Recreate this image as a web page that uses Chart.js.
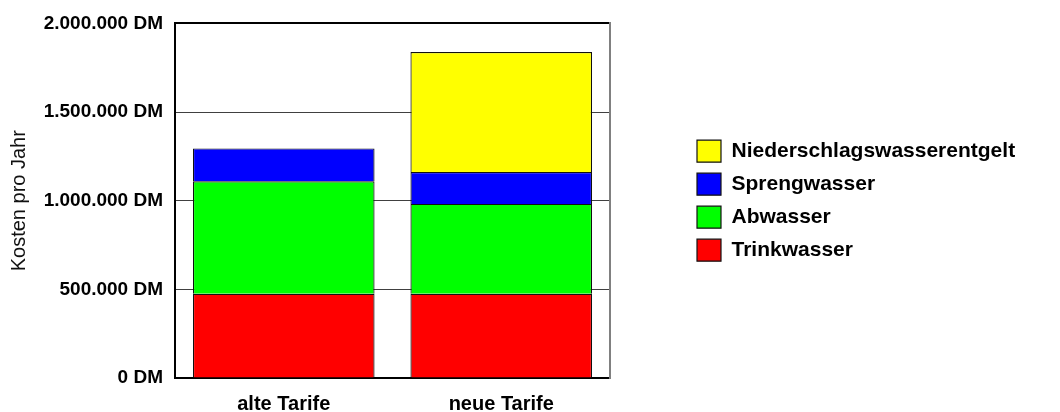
<!DOCTYPE html>
<html lang="de">
<head>
<meta charset="utf-8">
<title>Kosten pro Jahr – alte und neue Tarife</title>
<script src="https://cdn.jsdelivr.net/npm/chart.js@4/dist/chart.umd.min.js"></script>
<style>
  html, body { margin: 0; padding: 0; background: #fff; }
  canvas { display: block; }
</style>
</head>
<body>
<canvas id="chart" width="1060" height="412"></canvas>
<script>
// Tarifvarianten
const categories = ['alte Tarife', 'neue Tarife'];

// Jahreskosten je Kostenart in DM (von unten nach oben gestapelt)
const trinkwasser = [475000, 475000];
const abwasser = [634000, 507000];
const sprengwasser = [186000, 180000];
const niederschlagswasser = [0, 677000];

// Achsenbeschriftung
const yTickValues = [0, 500000, 1000000, 1500000, 2000000];
const yTickLabels = ['0 DM', '500.000 DM', '1.000.000 DM', '1.500.000 DM', '2.000.000 DM'];

const FONT = '"Liberation Sans", Arial, Helvetica, sans-serif';

// Legende mit fester Breite, damit sie am rechten Rand sitzt
const legendWidthPlugin = {
  id: 'legendWidth',
  beforeUpdate(chart) {
    const lg = chart.legend;
    if (lg && !lg._fixedWidth) {
      const fit = lg.fit.bind(lg);
      lg.fit = function () {
        fit();
        this.width = 374;
      };
      lg._fixedWidth = true;
    }
  }
};

const ds = (label, data, color) => ({
  label,
  data,
  backgroundColor: color,
  borderColor: '#111',
  borderWidth: 1.2,
  categoryPercentage: 1.0,
  barPercentage: 0.835
});

new Chart(document.getElementById('chart'), {
  type: 'bar',
  data: {
    labels: categories,
    datasets: [
      ds('Trinkwasser', trinkwasser, '#ff0000'),
      ds('Abwasser', abwasser, '#00ff00'),
      ds('Sprengwasser', sprengwasser, '#0000ff'),
      ds('Niederschlagswasserentgelt', niederschlagswasser, '#ffff00')
    ]
  },
  options: {
    responsive: false,
    animation: false,
    layout: { padding: { top: 23, right: 0, bottom: 0, left: 0 } },
    plugins: {
      tooltip: { enabled: false },
      legend: {
        position: 'right',
        fullSize: false,
        reverse: true,
        labels: {
          boxWidth: 24,
          boxHeight: 22,
          padding: 11,
          color: '#000',
          font: { family: FONT, size: 21, weight: 'bold' }
        }
      }
    },
    scales: {
      x: {
        stacked: true,
        grid: { display: false },
        border: { display: true, color: '#000', width: 2 },
        ticks: {
          color: '#000',
          padding: 6,
          font: { family: FONT, size: 20, weight: 'bold' }
        },
        afterFit(scale) { scale.height = 34; }
      },
      y: {
        stacked: true,
        min: 0,
        max: 2000000,
        grid: {
          drawTicks: false,
          color: (c) => (c.tick && c.tick.value === 2000000 ? '#000' : '#404040'),
          lineWidth: (c) => (c.tick && c.tick.value === 2000000 ? 2 : 1)
        },
        border: { display: true, color: '#000', width: 2 },
        ticks: {
          stepSize: 500000,
          padding: 12,
          color: '#000',
          font: { family: FONT, size: 19, weight: 'bold' },
          callback: (v) => {
            const i = yTickValues.indexOf(v);
            return i >= 0 ? yTickLabels[i] : '';
          }
        },
        title: {
          display: true,
          text: 'Kosten pro Jahr',
          color: '#111',
          padding: { top: 7, bottom: 0 },
          font: { family: FONT, size: 20, weight: 'normal' }
        },
        afterFit(scale) { scale.width = 175; }
      },
      rechts: {
        position: 'right',
        min: 0,
        max: 2000000,
        grid: { display: false },
        border: { display: true, color: '#808080', width: 2 },
        ticks: { display: false },
        afterFit(scale) { scale.width = 76; }
      }
    }
  },
  plugins: [legendWidthPlugin]
});
</script>
</body>
</html>
